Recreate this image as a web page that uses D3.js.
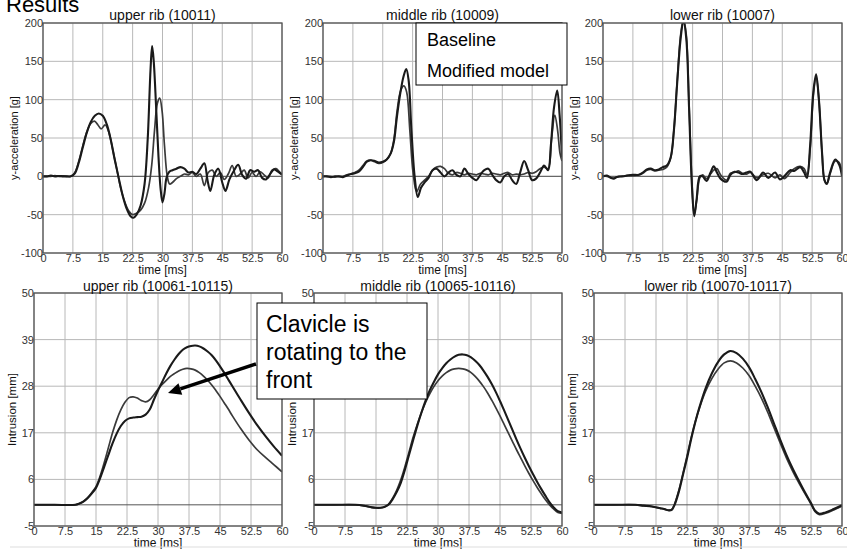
<!DOCTYPE html>
<html><head><meta charset="utf-8">
<script src="https://cdn.jsdelivr.net/npm/d3@7"></script>
<style>body{margin:0;background:#fff} svg{display:block} text{font-family:Arial,"Liberation Sans",Helvetica,sans-serif}</style>
</head><body><svg id="c" width="847" height="549"></svg>
<script>
// ---------- data ----------
const timeTicks = [0, 7.5, 15, 22.5, 30, 37.5, 45, 52.5, 60];
const accTicks = [-100, -50, 0, 50, 100, 150, 200];
const intTicks = [-5, 6, 17, 28, 39, 50];
const accTitles = ["upper rib (10011)", "middle rib (10009)", "lower rib (10007)"];
const intTitles = ["upper rib (10061-10115)", "middle rib (10065-10116)", "lower rib (10070-10117)"];
const legendLabels = ["Baseline", "Modified model"];
const annotationLines = ["Clavicle is", "rotating to the", "front"];
const pageTitle = "Results";

// [time ms, value]
const upperAccA = [[0,0],[1,0],[2,1],[3,0],[4,0.5],[5,0],[6,0],[7,0],[8,4],[9,18],[10,38],[11,57],[12,71],[13,79],[14,82],[15,79],[16,68],[17,48],[18,22],[19,-2],[20,-25],[21,-42],[22,-52],[22.7,-54],[23.5,-50],[24.5,-38],[25.5,-10],[26.3,50],[27,140],[27.4,170],[27.8,150],[28.4,90],[29,25],[29.5,-15],[30,-34],[30.5,-22],[31,-2],[31.7,6],[32.5,8],[33.5,10],[34.5,12],[35.5,10],[36.5,5],[37.5,6],[38.5,3],[39.5,10],[40.5,17],[41.3,-5],[42,-19],[43,2],[44,10],[45,-8],[45.8,-19],[46.8,-4],[48,8],[49,15],[50,2],[51,-3],[52,8],[53,6],[54,8],[55,-2],[56,-4],[57,3],[58,9],[59,6],[60,2]];
const upperAccB = [[0,0],[1,0],[2,0],[3,1],[4,0],[5,0.5],[6,0],[7,0],[8,5],[9,20],[10,40],[11,58],[12,69],[12.9,72],[13.8,67],[14.6,62],[15.6,67],[16.5,58],[17.5,35],[18.5,10],[19.5,-15],[20.5,-33],[21.5,-45],[22.5,-50],[23.5,-48],[24.5,-44],[25.5,-35],[26.5,-15],[27.3,15],[28,60],[28.7,95],[29.3,102],[29.9,85],[30.5,40],[31.2,0],[31.8,-10],[32.5,-8],[33.5,-3],[34.5,0],[35.5,3],[36.5,2],[37.5,5],[38.5,0],[39.5,3],[40.5,-12],[41.5,5],[42.5,8],[43.5,0],[44.5,5],[45.5,-4],[46.5,3],[47.5,14],[48.5,0],[49.5,3],[50.5,8],[51.5,-2],[52.5,5],[53.5,0],[54.5,6],[55.5,2],[56.5,-2],[57.5,8],[58.5,10],[59.5,5],[60,3]];
const middleAccA = [[0,0],[1,0],[2,-1],[3,0],[4,0],[5,-1],[6,1],[7,3],[8,4],[9,6],[10,12],[11,19],[12,21],[13,20],[14,18],[15,19],[16,22],[17,30],[17.8,45],[18.5,75],[19.3,105],[20.2,130],[20.9,140],[21.5,125],[22.2,60],[23,0],[23.8,-27],[24.6,-15],[25.5,-8],[26.5,-2],[27.5,8],[28.5,10],[29.5,5],[30.5,0],[31.5,5],[32.5,8],[33.5,2],[34.5,0],[35.5,10],[36.5,3],[37.5,-2],[38.5,-5],[39.5,2],[40.5,8],[41.5,10],[42.5,2],[43.5,-5],[44.5,-8],[45.5,0],[46.5,3],[47.5,-5],[48.5,-10],[49.5,5],[50.5,20],[51.5,8],[52.5,-5],[53.5,-3],[54.5,5],[55.5,14],[56.5,8],[57.2,40],[58,90],[58.8,112],[59.4,80],[60,25]];
const middleAccB = [[0,0],[1,0],[2,0],[3,-1],[4,0],[5,0],[6,2],[7,3],[8,5],[9,8],[10,14],[11,20],[12,21],[13,19],[14,17],[15,18],[16,22],[17,30],[17.8,48],[18.6,85],[19.5,112],[20.3,118],[21,110],[21.8,60],[22.6,5],[23.5,-20],[24.5,-10],[25.5,-5],[26.5,0],[27.5,8],[28.5,12],[29.5,13],[30.5,10],[31.5,4],[32.5,2],[33.5,5],[34.5,4],[35.5,2],[36.5,4],[37.5,3],[38.5,2],[39.5,4],[40.5,3],[41.5,2],[42.5,4],[43.5,3],[44.5,2],[45.5,4],[46.5,5],[47.5,2],[48.5,3],[49.5,2],[50.5,3],[51.5,5],[52.5,4],[53.5,6],[54.5,10],[55.5,12],[56.5,10],[57.4,50],[58.2,80],[58.9,60],[59.5,30],[60,20]];
const lowerAccA = [[0,0],[1,1],[2,-2],[2.7,-3],[3.5,-1],[5,0],[6,1],[7.5,2],[9,2],[10,5],[11,9],[12,10],[13,8],[14,9],[15,12],[16,14],[17,25],[17.8,60],[18.6,120],[19.5,180],[20.2,203],[20.9,180],[21.6,90],[22.3,-10],[22.9,-52],[23.5,-30],[24.3,0],[25,0],[26,-6],[27,5],[27.8,13],[28.6,5],[29.5,-3],[31,-7],[32,2],[33,6],[34,5],[35,3],[36,5],[37,6],[38.6,-5],[40.2,5],[41.5,-2],[43.2,5],[44.4,-4],[45.5,0],[47,8],[48,7],[49.5,12],[50.5,5],[51.2,-2],[52,40],[52.8,110],[53.5,133],[54.2,100],[55,30],[55.6,-5],[56.2,-10],[57,5],[58.3,22],[59.3,15],[60,0]];
const lowerAccB = [[0,0],[1,0],[2,-2],[3,-2],[4,0],[5,0],[6,1],[7.5,1],[9,2],[10,4],[11,8],[12,9],[13,7],[14,8],[15,9],[16,12],[17,24],[17.8,60],[18.6,122],[19.5,185],[20.2,205],[20.9,185],[21.6,95],[22.3,-5],[22.9,-50],[23.5,-32],[24.3,-2],[25,2],[26,-3],[27,3],[27.8,8],[28.6,10],[29.5,2],[31,-5],[32,4],[33,5],[34,7],[35,4],[36,3],[37,5],[38.6,-2],[40.2,2],[41.5,4],[43.2,-2],[44.4,2],[45.5,-3],[47,5],[48,10],[49.5,13],[50.5,10],[51.2,2],[52,35],[52.8,105],[53.5,130],[54.2,100],[55,30],[55.6,-5],[56.2,-9],[57,3],[58.3,20],[59.3,18],[60,2]];

const upperIntA = [[0,0],[5,0],[10,0],[11,0.3],[12,0.8],[13,1.6],[14,2.7],[15,4],[16,6.3],[17,9],[18,11.8],[19,14.5],[20,16.8],[21,18.6],[22,19.8],[23,20.4],[24,20.6],[25,20.7],[26,20.8],[27,21.3],[28,22.5],[29,24.8],[30,27],[31,29],[32,31],[33,32.8],[34,34.3],[35,35.6],[36,36.6],[37,37.2],[38,37.5],[39,37.6],[40,37.4],[41,36.9],[42,36.2],[43,35.3],[44,34.1],[45,32.7],[46,31.2],[47,29.6],[48,28],[50,24.8],[52,21.7],[54,18.8],[56,16.2],[58,13.8],[60,11.6]];
const upperIntB = [[0,0],[5,0],[10,0],[11,0.3],[12,0.8],[13,1.7],[14,2.9],[15,4.3],[16,6.8],[17,10],[18,13.5],[19,17],[20,20],[21,22.4],[22,24.2],[23,25.3],[24,25.5],[25,25.2],[26,24.6],[27,24.3],[28,24.8],[29,26],[30,27.3],[31,28.4],[32,29.4],[33,30.3],[34,31],[35,31.6],[36,32],[37,32.2],[38,32.1],[39,31.8],[40,31.2],[41,30.4],[42,29.4],[43,28.3],[44,27],[45,25.6],[46,24.1],[47,22.6],[48,21],[50,18],[52,15.3],[54,13],[56,11.2],[58,9.5],[60,7.8]];
const middleIntA = [[0,0],[5,0],[10,0],[12,-0.2],[14,-0.6],[15,-0.7],[16,-0.7],[17,-0.5],[18,0],[19,1.3],[20,3],[21,5.2],[22,8.3],[23,11.8],[24,15.3],[25,18.7],[26,21.8],[27,24.6],[28,27],[29,29],[30,30.8],[31,32.2],[32,33.4],[33,34.3],[34,35],[35,35.4],[36,35.5],[37,35.3],[38,34.8],[39,34],[40,33],[41,31.7],[42,30.2],[43,28.5],[44,26.6],[45,24.5],[46,22.3],[47,20],[48,17.7],[49,15.4],[50,13.2],[51,11.1],[52,9.1],[53,7.2],[54,5.4],[55,3.7],[56,2.1],[57,0.6],[58,-0.6],[59,-1.5],[60,-1.8]];
const middleIntB = [[0,0],[5,0],[10,0],[12,-0.2],[14,-0.6],[15,-0.7],[16,-0.7],[17,-0.5],[18,0.1],[19,1.5],[20,3.4],[21,5.9],[22,9],[23,12.5],[24,16],[25,19],[26,21.8],[27,24.2],[28,26.2],[29,27.9],[30,29.3],[31,30.4],[32,31.2],[33,31.8],[34,32.1],[35,32.2],[36,32.1],[37,31.8],[38,31.2],[39,30.3],[40,29.2],[41,27.9],[42,26.4],[43,24.7],[44,22.9],[45,21],[46,19],[47,17],[48,15],[49,13],[50,11.1],[51,9.2],[52,7.4],[53,5.7],[54,4.1],[55,2.6],[56,1.2],[57,0],[58,-1],[59,-1.8],[60,-2]];
const lowerIntA = [[0,0],[5,0],[10,0],[12,-0.2],[14,-0.4],[16,-0.8],[17,-1],[18,-1.3],[18.8,-1.2],[19.5,0],[20.5,3],[21.5,7],[22.5,11],[23.5,15.5],[24.5,19.5],[25.5,23],[27,27.5],[28.5,31],[30,33.7],[31.5,35.5],[33,36.3],[34.5,35.8],[36,34.5],[37.5,32.5],[39,29.7],[40.5,26.6],[42,23.1],[43.5,19.3],[45,15.5],[46.5,11.9],[48,8.7],[49.5,5.8],[51,3],[52.5,0.4],[53.5,-1.4],[54.5,-2.1],[56,-1.8],[58,-1],[60,-0.1]];
const lowerIntB = [[0,0],[5,0],[10,0],[12,-0.2],[14,-0.4],[16,-0.8],[17,-1],[18,-1.3],[18.8,-1.1],[19.5,0.2],[20.5,3.3],[21.5,7.3],[22.5,11.5],[23.5,15.8],[24.5,19.6],[25.5,22.8],[27,26.8],[28.5,29.8],[30,32],[31.5,33.5],[33,34],[34.5,33.5],[36,32.3],[37.5,30.5],[39,28],[40.5,25.2],[42,21.9],[43.5,18.3],[45,14.7],[46.5,11.2],[48,8.1],[49.5,5.3],[51,2.7],[52.5,0.2],[53.5,-1.6],[54.5,-2.3],[56,-2],[58,-1.2],[60,-0.3]];

// ---------- drawing ----------
const svg = d3.select("#c");
const accPanels = [
  {title: accTitles[0], a: upperAccA, b: upperAccB},
  {title: accTitles[1], a: middleAccA, b: middleAccB},
  {title: accTitles[2], a: lowerAccA, b: lowerAccB}
];
const intPanels = [
  {title: intTitles[0], a: upperIntA, b: upperIntB},
  {title: intTitles[1], a: middleIntA, b: middleIntB},
  {title: intTitles[2], a: lowerIntA, b: lowerIntB}
];

function panel(p, i, opt) {
  const left = opt.lefts[i], top = opt.top, w = opt.w, h = opt.h;
  const x = d3.scaleLinear().domain([0, 60]).range([0, w]);
  const y = d3.scaleLinear().domain(opt.yDomain).range([h, 0]);
  const g = svg.append("g").attr("transform", `translate(${left},${top})`);
  const cid = "clip" + opt.key + i;
  g.append("clipPath").attr("id", cid).append("rect").attr("width", w).attr("height", h);

  // grid
  g.append("g").selectAll("line").data(timeTicks).join("line")
    .attr("x1", d => x(d)).attr("x2", d => x(d)).attr("y1", 0).attr("y2", h)
    .attr("stroke", "#b8b8b8").attr("stroke-width", 1);
  g.append("g").selectAll("line").data(opt.yTicks).join("line")
    .attr("y1", d => y(d)).attr("y2", d => y(d)).attr("x1", 0).attr("x2", w)
    .attr("stroke", "#b8b8b8").attr("stroke-width", 1);
  // zero line
  g.append("line").attr("x1", 0).attr("x2", w).attr("y1", y(0)).attr("y2", y(0))
    .attr("stroke", "#555").attr("stroke-width", 1);

  // curves
  const line = d3.line().x(d => x(d[0])).y(d => y(d[1])).curve(d3.curveCatmullRom.alpha(0.5));
  const cg = g.append("g").attr("clip-path", `url(#${cid})`);
  cg.append("path").datum(p.b).attr("d", line).attr("fill", "none")
    .attr("stroke", "#3a3a3a").attr("stroke-width", 1.7).attr("stroke-linejoin", "round");
  cg.append("path").datum(p.a).attr("d", line).attr("fill", "none")
    .attr("stroke", "#1a1a1a").attr("stroke-width", 2.1).attr("stroke-linejoin", "round");

  // frame
  g.append("rect").attr("width", w).attr("height", h).attr("fill", "none")
    .attr("stroke", "#555").attr("stroke-width", 1.3);

  // axes
  const xa = g.append("g").attr("transform", `translate(0,${h})`)
    .call(d3.axisBottom(x).tickValues(timeTicks).tickFormat(d => String(d)).tickSize(0).tickPadding(opt.xPad));
  const ya = g.append("g")
    .call(d3.axisLeft(y).tickValues(opt.yTicks).tickFormat(d => String(d)).tickSize(0).tickPadding(0));
  [xa, ya].forEach(a => {
    a.select(".domain").remove();
    a.selectAll("text").attr("fill", "#333").style("font-size", "11px").style("font-family", "Arial, 'Liberation Sans', sans-serif");
  });

  // titles
  g.append("text").attr("x", w / 2).attr("y", opt.titleY).attr("text-anchor", "middle")
    .style("font-size", "14px").attr("fill", "#111").text(p.title);
  g.append("text").attr("x", w / 2).attr("y", h + opt.xLabelY).attr("text-anchor", "middle")
    .style("font-size", "12px").attr("fill", "#111").text("time [ms]");
  g.append("text").attr("transform", `translate(${opt.yLabelX},${h / 2}) rotate(-90)`)
    .attr("text-anchor", "middle").style("font-size", opt.yLabelSize).attr("fill", "#111").text(opt.yLabel);
}

accPanels.forEach((p, i) => panel(p, i, {
  key: "a", lefts: [43, 323, 603], top: 23, w: 239, h: 230,
  yDomain: [-100, 200], yTicks: accTicks, titleY: -3, xLabelY: 21, xPad: 1,
  yLabelX: -25, yLabelSize: "11px", yLabel: "y-acceleration [g]"
}));
intPanels.forEach((p, i) => panel(p, i, {
  key: "i", lefts: [34, 314, 594], top: 293, w: 248, h: 233,
  yDomain: [-5, 50], yTicks: intTicks, titleY: -2, xLabelY: 21, xPad: 1,
  yLabelX: -18, yLabelSize: "11.5px", yLabel: "Intrusion [mm]"
}));

// page title (cut at top)
svg.append("text").attr("x", 6).attr("y", 12).style("font-size", "22px").attr("fill", "#000").text(pageTitle);

// legend box
const lg = svg.append("g").attr("transform", "translate(416,23)");
lg.append("rect").attr("width", 151).attr("height", 62).attr("fill", "#fff").attr("stroke", "#000").attr("stroke-width", 1);
lg.selectAll("text").data(legendLabels).join("text")
  .attr("x", 11).attr("y", (d, i) => 23 + i * 31).style("font-size", "18px").attr("fill", "#000").text(d => d);

// annotation
const ag = svg.append("g");
const ax0 = 257, ay0 = 303;
ag.append("rect").attr("x", ax0).attr("y", ay0).attr("width", 170).attr("height", 96)
  .attr("fill", "#fff").attr("stroke", "#000").attr("stroke-width", 1);
ag.selectAll("text").data(annotationLines).join("text")
  .attr("x", ax0 + 9).attr("y", (d, i) => ay0 + 29 + i * 28).style("font-size", "23px").attr("fill", "#000").text(d => d);
// arrow
const tip = [168, 393], tail = [256, 364];
const ang = Math.atan2(tip[1] - tail[1], tip[0] - tail[0]);
const hl = 13, hw = 6;
const base = [tip[0] - hl * Math.cos(ang), tip[1] - hl * Math.sin(ang)];
ag.append("line").attr("x1", tail[0]).attr("y1", tail[1]).attr("x2", base[0]).attr("y2", base[1])
  .attr("stroke", "#000").attr("stroke-width", 3.5);
ag.append("path").attr("d", d3.line()([
  tip,
  [base[0] + hw * Math.sin(ang), base[1] - hw * Math.cos(ang)],
  [base[0] - hw * Math.sin(ang), base[1] + hw * Math.cos(ang)]
])).attr("fill", "#000");

// faint bottom rule
svg.append("line").attr("x1", 10).attr("x2", 847).attr("y1", 547).attr("y2", 547).attr("stroke", "#ddd");
</script></body></html>
